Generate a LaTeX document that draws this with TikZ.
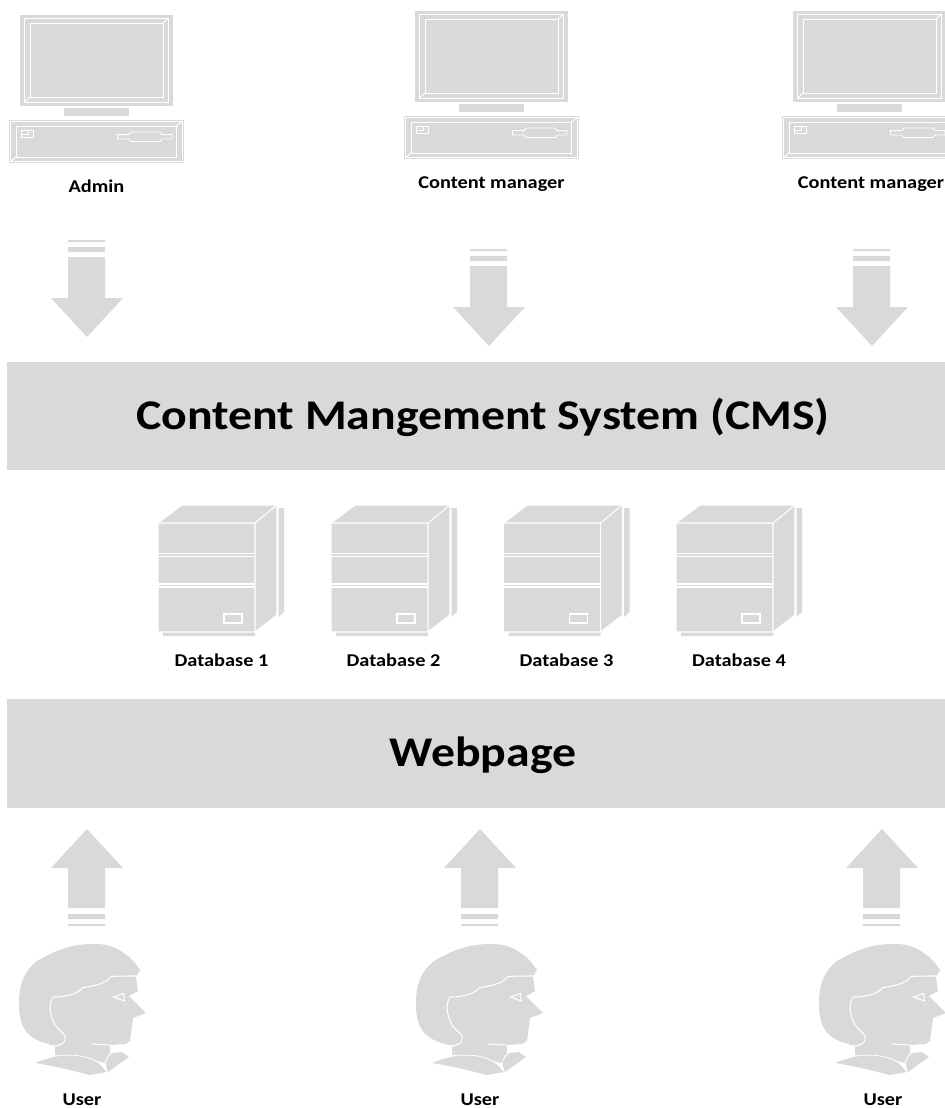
\documentclass[tikz,border=0pt]{standalone}
\usepackage{fontspec}
\setmainfont[FakeStretch=1.13]{Carlito}
\definecolor{shapegray}{HTML}{D9D9D9}
\tikzset{
  pics/computer/.style={code={
    \fill[shapegray] (20,15) rectangle (173,106);
    \draw[white,line width=.7pt] (24.5,18.5) rectangle (168,102) (30,23) rectangle (163,97);
    \draw[white,line width=.7pt] (24.5,102)--(30,97) (168,18.5)--(163,23);
    \fill[shapegray] (64,108) rectangle (129,116);
    \fill[shapegray] (9,120) rectangle (184,163);
    \draw[white,line width=.7pt] (10.5,121.5) rectangle (182.5,161.5) (16,126) rectangle (176,157);
    \draw[white,line width=.7pt] (10.5,161.5)--(16,157) (182.5,121.5)--(176,126);
    \draw[white,semithick] (21,130.5) rectangle (33,137) (21,134)--(28,134)--(28,130.5);
    \draw[white,line width=.7pt] (117.5,134.7)--(129,134.7)--(131,132)--(160,132)--(162,134.7)--(172,134.7)--(172,139)--(162,139)--(160,141.5)--(131,141.5)--(129,139)--(117.5,139)--cycle;
  }},
  pics/dbstack/.style={code={
    \fill[shapegray] (278.5,508)--(284,508)--(284,612)--(278.5,617)--cycle (163,632) rectangle (255,636);
    \fill[shapegray] (158,523)--(182,505)--(277,505)--(277,615)--(255,632)--(158,632)--cycle;
    \draw[white,thick] (158,632)--(158,523)--(182,505)--(277,505)--(277,615)--(255,632)--cycle;
    \draw[white,thick] (158,523)--(255,523)--(255,632) (255,523)--(277,505);
    \draw[white,thick] (158,553.5)--(255,553.5) (158,556.5)--(255,556.5) (158,584)--(255,584) (158,587)--(255,587);
    \draw[white,thick] (224,614) rectangle (242,623);
  }},
  pics/person/.style={code={
    \fill[shapegray] (140,970) .. controls (128,951) and (110,944) .. (97,944)
      .. controls (80,944) and (64,945) .. (37,961)
      .. controls (24,971) and (19,985) .. (19,1003)
      .. controls (19,1025) and (24,1040) .. (55,1045.5)
      --(55,1056)--(77,1056)--(93,1060)--(105,1063)--(110,1053)--(110,1045)--(125,1044)--(130,1041)--(133,1018)--(146,1013)--(129,996)--(138,991)--(136,977)--cycle;
    \fill[shapegray] (35,1063) .. controls (50,1057) and (60,1055) .. (77,1055)
      .. controls (90,1056) and (100,1062) .. (107,1072)--(90,1075)
      .. controls (70,1070) and (55,1066) .. (35,1063)--cycle;
    \fill[shapegray] (105,1063)--(111,1053)--(122,1052)--(129,1057)--(108,1072)--cycle;
    \draw[white,semithick] (55,1055.5) .. controls (62,1055) and (70,1055) .. (77,1055.5)
      .. controls (90,1057) and (101,1062) .. (106,1071);
    \draw[white,semithick] (112,1052.5) .. controls (106,1056) and (103,1064) .. (107.5,1072.5);
    \draw[white,thick] (137,976) .. controls (125,976) and (112,976) .. (110,977)
      .. controls (105,985) and (90,986) .. (82,988)
      .. controls (76,996) and (60,997) .. (53,997)
      .. controls (48,1005) and (50,1015) .. (55,1025)
      .. controls (60,1032) and (68,1035) .. (65,1040)
      .. controls (64,1044) and (60,1045) .. (55,1046);
    \draw[white,thick] (91,1044)--(110,1045);
    \draw[white,thick] (113.5,997)--(123.5,993.5)--(124.5,1001)--cycle;
  }},
  pics/downarrow/.style={code={
    \fill[shapegray] (68,240) rectangle (105,242) (68,247) rectangle (105,252);
    \fill[shapegray] (68,257)--(105,257)--(105,298)--(123,298)--(87,337)--(51,298)--(68,298)--cycle;
  }},
  pics/uparrow/.style={code={
    \fill[shapegray] (68,924) rectangle (105,926) (68,914) rectangle (105,919);
    \fill[shapegray] (68,908)--(105,908)--(105,868)--(123,868)--(87,829)--(51,868)--(68,868)--cycle;
  }},
  bandtext/.style={anchor=base,inner sep=0pt,font=\bfseries\fontsize{31.7}{38}\selectfont,text=black},
  smalltext/.style={anchor=base,inner sep=0pt,font=\bfseries\fontsize{13.5}{16}\selectfont,text=black}
}
\begin{document}
\begin{tikzpicture}[x=.75pt,y=-.75pt]
  \clip (0,0) rectangle (945,1108);
  % computers
  \pic at (0,0) {computer};
  \pic at (395,-4) {computer};
  \pic at (773,-4) {computer};
  \node[smalltext] (admin) at (96.5,192.5) {Admin};
  \node[smalltext] (managerA) at (491.5,188) {Content manager};
  \node[smalltext] (managerB) at (871,188) {Content manager};
  % arrows
  \pic at (0,0) {downarrow};
  \pic at (402,9) {downarrow};
  \pic at (785,9) {downarrow};
  % bands
  \fill[shapegray] (7,362) rectangle (945,470);
  \node[bandtext] (cms) at (483,429) {Content Mangement System (CMS)};
  \fill[shapegray] (7,699) rectangle (945,808);
  \node[bandtext] (webpage) at (483,766) {Webpage};
  % databases
  \foreach \x/\t/\lx in {0/1/221.5,173/2/393.5,345.5/3/566.5,518/4/739}{
    \pic at (\x,0) {dbstack};
    \node[smalltext] (database\t) at (\lx,666) {Database \t};
  }
  % users
  \foreach \x/\lx/\n in {0/82/A,397/480/B,800/883/C}{
    \pic at (\x,0) {person};
    \node[smalltext] (user\n) at (\lx,1105) {User};
  }
  \pic at (0,0) {uparrow};
  \pic at (393,0) {uparrow};
  \pic at (795,0) {uparrow};
\end{tikzpicture}
\end{document}
